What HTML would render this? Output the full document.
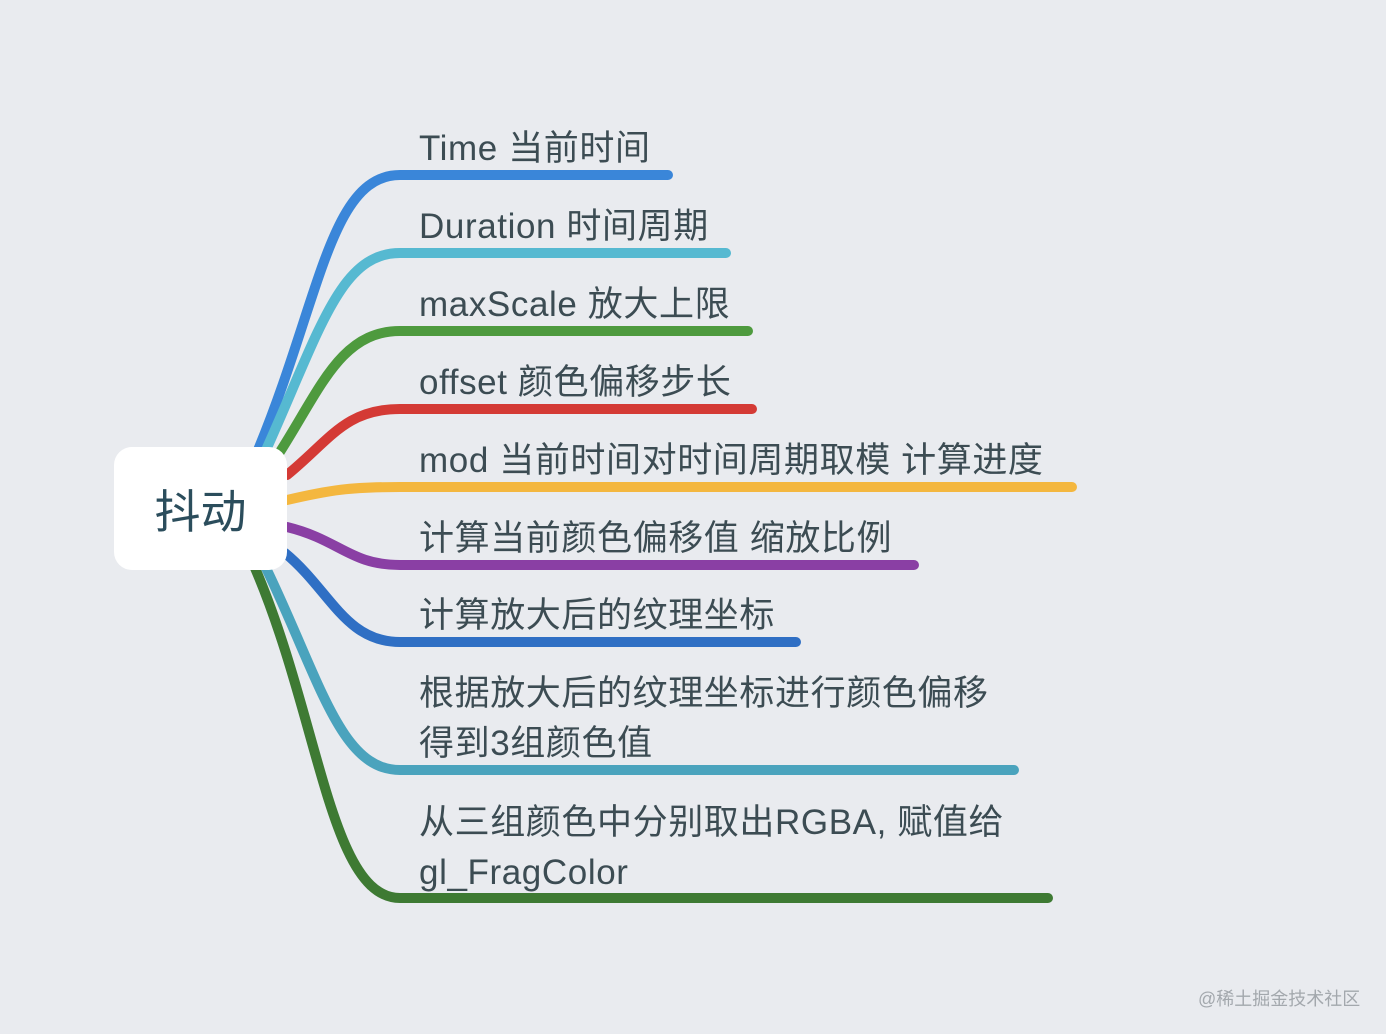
<!DOCTYPE html>
<html><head><meta charset="utf-8"><style>
html,body{margin:0;padding:0;background:#e9ebef;}
#c{position:relative;width:1386px;height:1034px;overflow:hidden;background:#e9ebef;font-family:"Liberation Sans","Noto Sans CJK SC",sans-serif;}
.t{position:absolute;left:419px;font-size:35px;letter-spacing:0.6px;color:#3c4c53;line-height:50px;white-space:nowrap;}
.root{position:absolute;left:114px;top:447px;width:173px;height:123px;background:#fff;border-radius:18px;display:flex;align-items:center;justify-content:center;font-size:46px;color:#2b4d5c;font-family:"Liberation Sans","Noto Sans CJK SC",sans-serif;}
.wm{position:absolute;left:1198px;top:985px;font-size:18px;color:#a3a8ad;}
</style></head><body><div id="c">
<svg width="1386" height="1034" style="position:absolute;left:0;top:0" fill="none" stroke-linecap="round" stroke-width="10">
<path d="M258 450 C320 300 330 175 400 175 L668 175" stroke="#3a86d9"/>
<path d="M266 450 C320 330 340 253 400 253 L726 253" stroke="#56b9d1"/>
<path d="M278 455 C320 390 340 331 400 331 L748 331" stroke="#4e9a3e"/>
<path d="M287 475 C330 440 345 409 400 409 L752 409" stroke="#d43a35"/>
<path d="M287 500 C330 490 350 487 400 487 L1072 487" stroke="#f4b73f"/>
<path d="M287 527 C340 540 350 565 400 565 L914 565" stroke="#8a3fa4"/>
<path d="M285 553 C330 590 345 642 400 642 L796 642" stroke="#2f6fc4"/>
<path d="M266 568 C320 680 340 770 400 770 L1014 770" stroke="#4aa3bd"/>
<path d="M255 568 C320 720 330 898 400 898 L1048 898" stroke="#3e7a33"/>
</svg>
<div class="root">抖动</div>
<div class="t" style="top:124px">Time 当前时间</div>
<div class="t" style="top:202px">Duration 时间周期</div>
<div class="t" style="top:280px">maxScale 放大上限</div>
<div class="t" style="top:358px">offset 颜色偏移步长</div>
<div class="t" style="top:436px">mod 当前时间对时间周期取模 计算进度</div>
<div class="t" style="top:514px">计算当前颜色偏移值 缩放比例</div>
<div class="t" style="top:591px">计算放大后的纹理坐标</div>
<div class="t" style="top:669px">根据放大后的纹理坐标进行颜色偏移<br>得到3组颜色值</div>
<div class="t" style="top:798px">从三组颜色中分别取出RGBA, 赋值给<br>gl_FragColor</div>
<div class="wm">@稀土掘金技术社区</div>
</div></body></html>
